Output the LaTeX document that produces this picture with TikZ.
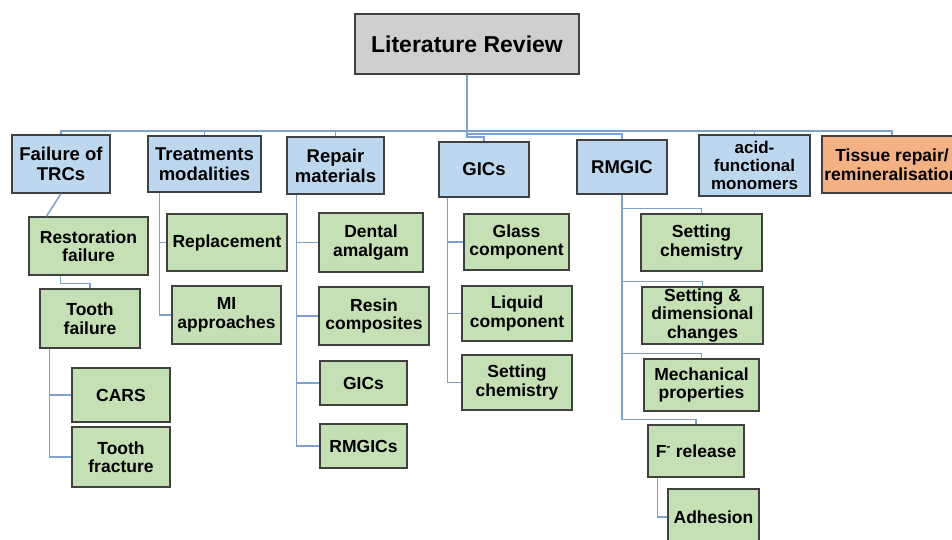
\documentclass[tikz,border=0pt]{standalone}
\usepackage{fontspec}
\setmainfont{Liberation Sans}
\definecolor{boxline}{RGB}{64,64,64}
\definecolor{rootgray}{RGB}{208,206,206}
\definecolor{topblue}{RGB}{189,215,238}
\definecolor{subgreen}{RGB}{197,224,180}
\definecolor{tissueorange}{RGB}{244,177,131}
\definecolor{linkblue}{RGB}{125,162,207}

\begin{document}
\begin{tikzpicture}[x=1pt,y=-1pt,
		box/.style={draw=boxline,line width=1.3pt,align=center,inner sep=1pt,font=\bfseries\fontsize{17.5}{18.5}\selectfont},
		top/.style={box,fill=topblue,font=\bfseries\fontsize{18.5}{20}\selectfont},
		sub/.style={box,fill=subgreen},
		sz/.style 2 args={minimum width=#1pt,minimum height=#2pt},
		link/.style={draw=linkblue,line width=1.5pt}]
			\useasboundingbox (0,0) rectangle (952,539);
			% root and the bus levels
			\node[box,fill=rootgray,sz={224}{60},font=\bfseries\fontsize{23}{26}\selectfont] (root) at (467,44) {Literature Review};
			\coordinate (bus) at (0,131);
			\coordinate (busB) at (0,134);
			\coordinate (busC) at (0,137);
			% first level
			\node[top,sz={98}{58}] (fail) at (61,164) {Failure of\\TRCs};
			\node[top,sz={113}{56}] (treat) at (204.5,164) {Treatments\\modalities};
			\node[top,sz={97}{57}] (repair) at (335.5,165.5) {Repair\\materials};
			\node[top,sz={90}{55}] (gics) at (484,169.5) {GICs};
			\node[top,sz={90}{54}] (rmgic) at (622,167) {RMGIC};
			\node[top,sz={111}{61},font=\bfseries\fontsize{17}{18}\selectfont] (acid) at (754.5,165.5) {acid-\\functional\\monomers};
			\node[box,fill=tissueorange,sz={140}{57}] (tissue) at (892,164.5) {Tissue repair/\\remineralisation};
			% failure of TRCs
			\node[sub,sz={119}{58}] (rest) at (88.5,246) {Restoration\\failure};
			\node[sub,sz={100}{59}] (tooth) at (90,318.5) {Tooth\\failure};
			\node[sub,sz={98}{54}] (cars) at (121,395) {CARS};
			\node[sub,sz={98}{60}] (fract) at (121,457) {Tooth\\fracture};
			% treatments
			\node[sub,sz={120}{57}] (repl) at (227,242.5) {Replacement};
			\node[sub,sz={109}{58}] (mi) at (226.5,315) {MI\\approaches};
			% repair materials
			\node[sub,sz={104}{59}] (amal) at (371,242.5) {Dental\\amalgam};
			\node[sub,sz={110}{58}] (resin) at (374,316) {Resin\\composites};
			\node[sub,sz={87}{44}] (gicm) at (363.5,383) {GICs};
			\node[sub,sz={87}{44}] (rmgicm) at (363.5,446) {RMGICs};
			% GICs
			\node[sub,sz={105}{56}] (glass) at (516.5,242) {Glass\\component};
			\node[sub,sz={110}{55}] (liquid) at (517,313.5) {Liquid\\component};
			\node[sub,sz={110}{55}] (gset) at (517,382.5) {Setting\\chemistry};
			% RMGIC
			\node[sub,sz={121}{57}] (rset) at (701.5,242.5) {Setting\\chemistry};
			\node[sub,sz={121}{57}] (rdim) at (702.5,315.5) {Setting \&\\dimensional\\changes};
			\node[sub,sz={115}{52}] (rmech) at (701.5,385) {Mechanical\\properties};
			\node[sub,sz={96}{52}] (rfl) at (696,451) {F\textsuperscript{-} release};
			\node[sub,sz={91}{56}] (radh) at (713.5,517) {Adhesion};

			% root to first level
			\foreach \n/\b in {fail/bus,treat/bus,repair/bus,acid/bus,tissue/bus,rmgic/busB,gics/busC}
			\draw[link] (root.south) -- (root.south |- \b) -| (\n.north);
			% failure of TRCs
			\draw[link] (fail.south) -- ([xshift=18pt]rest.north west);
			\draw[link] ([xshift=32pt]rest.south west) |- ([yshift=5pt]tooth.north) -- (tooth.north);
			\foreach \c in {cars,fract}
			\draw[link] (tooth.south west) ++(10,0) |- (\c.west);
			% side branches
			\foreach \c in {repl,mi}
			\draw[link] (treat.south west) ++(12,0) |- (\c.west);
			\foreach \c in {amal,resin,gicm,rmgicm}
			\draw[link] (repair.south west) ++(10,0) |- (\c.west);
			\foreach \c in {glass,liquid,gset}
			\draw[link] (gics.south west) ++(9,0) |- (\c.west);
			% RMGIC
			\foreach \c in {rset,rdim,rmech,rfl}
			\draw[link] (rmgic.south) |- ([yshift=5pt]\c.north) -- (\c.north);
			\draw[link] (rfl.south west) ++(10,0) |- (radh.west);
		\end{tikzpicture}
\end{document}
